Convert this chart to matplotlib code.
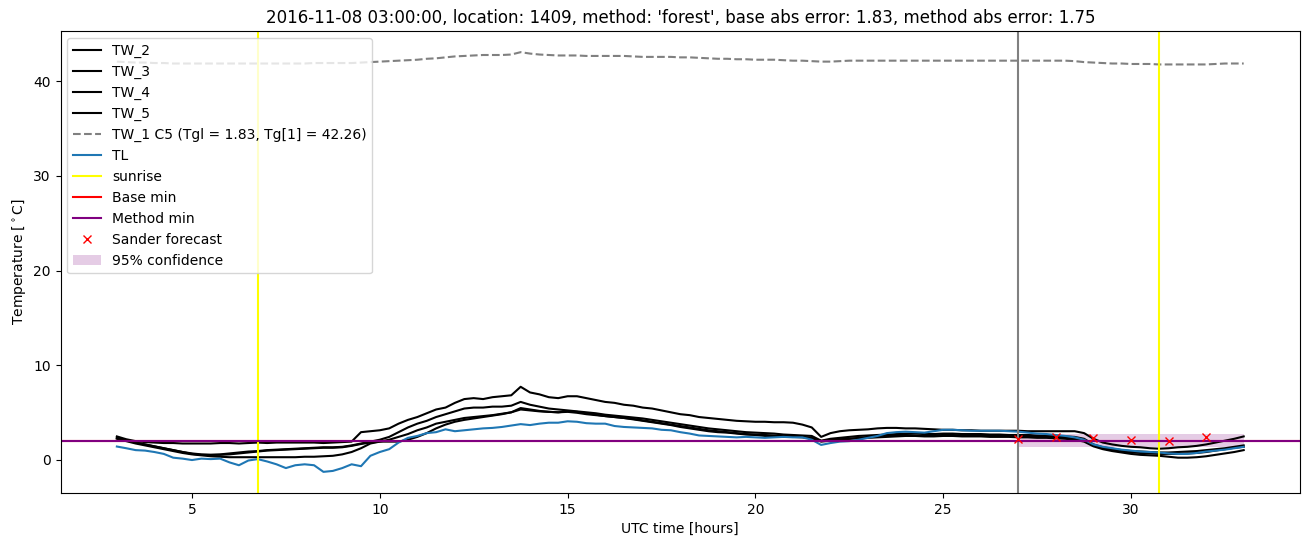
import numpy as np
import matplotlib
matplotlib.use("Agg")
import matplotlib.pyplot as plt

# time axis, 15-minute steps from 03:00 to 33:00 UTC
hours = np.arange(3, 33.001, 0.25)

tw_2 = [
    2.45, 2.15, 1.95, 1.85,
    1.8, 1.75, 1.75, 1.7,
    1.7, 1.7, 1.7, 1.75,
    1.75, 1.7, 1.75, 1.8,
    1.75, 1.8, 1.8, 1.8,
    1.8, 1.8, 1.75, 1.8,
    1.85, 1.9, 2.9, 3.0,
    3.1, 3.3, 3.8, 4.2,
    4.5, 4.9, 5.3, 5.5,
    6.0, 6.4, 6.5, 6.4,
    6.6, 6.7, 6.8, 7.7,
    7.1, 6.9, 6.6, 6.5,
    6.7, 6.7, 6.5, 6.3,
    6.1, 6.0, 5.8, 5.7,
    5.5, 5.4, 5.2, 5.0,
    4.8, 4.7, 4.5, 4.4,
    4.3, 4.2, 4.1, 4.05,
    4.0, 4.0, 3.95, 3.95,
    3.9, 3.7, 3.4, 2.4,
    2.8, 3.0, 3.1, 3.15,
    3.2, 3.3, 3.35, 3.35,
    3.3, 3.3, 3.25, 3.2,
    3.15, 3.15, 3.1, 3.1,
    3.05, 3.05, 3.05, 3.05,
    3.05, 3.0, 3.0, 3.0,
    3.0, 3.0, 3.0, 2.8,
    2.2, 1.8, 1.6, 1.45,
    1.35, 1.3, 1.2, 1.15,
    1.2, 1.3, 1.35, 1.45,
    1.6, 1.8, 2.0, 2.2,
    2.45,
]

tw_3 = [
    2.3, 2.0, 1.8, 1.6,
    1.4, 1.2, 1.0, 0.8,
    0.6, 0.5, 0.5, 0.55,
    0.65, 0.75, 0.85, 0.9,
    1.0, 1.05, 1.1, 1.15,
    1.2, 1.25, 1.3, 1.3,
    1.35, 1.5, 1.7, 1.9,
    2.1, 2.4, 2.9, 3.4,
    3.8, 4.1, 4.5, 4.8,
    5.1, 5.4, 5.5, 5.5,
    5.6, 5.6, 5.7, 6.1,
    5.8, 5.6, 5.4, 5.3,
    5.2, 5.1, 5.0, 4.9,
    4.75, 4.65, 4.55, 4.45,
    4.35, 4.2, 4.05, 3.9,
    3.75, 3.6, 3.45, 3.3,
    3.2, 3.1, 3.0, 2.9,
    2.85, 2.8, 2.75, 2.65,
    2.6, 2.55, 2.5, 2.0,
    2.2, 2.3, 2.4, 2.5,
    2.55, 2.6, 2.65, 2.7,
    2.75, 2.75, 2.7, 2.7,
    2.75, 2.75, 2.7, 2.7,
    2.7, 2.65, 2.65, 2.6,
    2.6, 2.6, 2.55, 2.5,
    2.5, 2.45, 2.4, 2.2,
    1.6, 1.3, 1.15, 1.0,
    0.9, 0.85, 0.8, 0.75,
    0.75, 0.8, 0.85, 0.9,
    1.0, 1.1, 1.2, 1.35,
    1.5,
]

tw_4 = [
    2.2, 1.95, 1.7, 1.5,
    1.3, 1.1, 0.9, 0.7,
    0.55, 0.45, 0.35, 0.3,
    0.25, 0.25, 0.25, 0.25,
    0.25, 0.25, 0.25, 0.25,
    0.3, 0.3, 0.35, 0.4,
    0.55, 0.8, 1.2, 1.7,
    1.9, 1.9, 1.9, 2.1,
    2.4, 2.8, 3.3, 3.7,
    4.0, 4.2, 4.35, 4.5,
    4.65, 4.8, 5.0, 5.3,
    5.2, 5.1, 5.05, 5.0,
    5.05, 4.95, 4.8, 4.7,
    4.6, 4.5, 4.4, 4.3,
    4.15, 4.0, 3.85, 3.7,
    3.55, 3.4, 3.25, 3.1,
    3.0, 2.9, 2.8, 2.7,
    2.65, 2.6, 2.55, 2.5,
    2.45, 2.4, 2.3, 1.95,
    2.05, 2.15, 2.2, 2.25,
    2.3, 2.35, 2.4, 2.45,
    2.5, 2.5, 2.45, 2.45,
    2.5, 2.5, 2.45, 2.45,
    2.45, 2.4, 2.4, 2.4,
    2.35, 2.35, 2.3, 2.3,
    2.25, 2.2, 2.1, 1.9,
    1.4, 1.1, 0.9, 0.75,
    0.6, 0.5, 0.45, 0.4,
    0.3, 0.2, 0.2, 0.25,
    0.35, 0.5, 0.65, 0.8,
    1.0,
]

tw_5 = [
    2.3, 2.05, 1.8, 1.6,
    1.4, 1.2, 1.0, 0.8,
    0.65, 0.55, 0.5, 0.5,
    0.55, 0.65, 0.75, 0.85,
    0.95, 1.0, 1.05, 1.1,
    1.15, 1.2, 1.25, 1.25,
    1.3, 1.45, 1.65, 1.8,
    1.9, 2.1, 2.4, 2.7,
    3.1, 3.4, 3.8, 4.0,
    4.2, 4.4, 4.5, 4.6,
    4.7, 4.85, 5.0, 5.45,
    5.3, 5.15, 5.05, 5.0,
    5.1, 5.05, 4.9, 4.75,
    4.6, 4.5, 4.4, 4.25,
    4.1, 3.95, 3.8, 3.65,
    3.45, 3.3, 3.15, 3.0,
    2.9, 2.85, 2.75, 2.65,
    2.6, 2.5, 2.45, 2.4,
    2.4, 2.35, 2.25, 1.9,
    2.0, 2.1, 2.2, 2.3,
    2.4, 2.5, 2.55, 2.6,
    2.6, 2.55, 2.5, 2.55,
    2.6, 2.6, 2.55, 2.55,
    2.55, 2.5, 2.5, 2.5,
    2.45, 2.45, 2.4, 2.4,
    2.35, 2.3, 2.2, 2.0,
    1.5, 1.2, 1.0, 0.85,
    0.75, 0.7, 0.65, 0.6,
    0.6, 0.6, 0.65, 0.7,
    0.8, 0.95, 1.1, 1.25,
    1.35,
]

tw_1 = [
    42.1, 42.05, 42.0, 42.0,
    41.95, 41.95, 41.9, 41.9,
    41.9, 41.9, 41.9, 41.9,
    41.9, 41.9, 41.9, 41.9,
    41.9, 41.9, 41.9, 41.9,
    41.9, 41.95, 41.95, 41.95,
    41.95, 41.95, 42.0, 42.05,
    42.1, 42.15, 42.2, 42.25,
    42.3, 42.4, 42.45, 42.55,
    42.65, 42.7, 42.75, 42.8,
    42.8, 42.8, 42.85, 43.1,
    42.95, 42.85, 42.8, 42.75,
    42.75, 42.75, 42.7, 42.7,
    42.7, 42.7, 42.7, 42.65,
    42.6, 42.6, 42.6, 42.6,
    42.55, 42.55, 42.5, 42.45,
    42.4, 42.4, 42.35, 42.35,
    42.3, 42.3, 42.3, 42.25,
    42.2, 42.2, 42.15, 42.1,
    42.1, 42.15, 42.2, 42.2,
    42.2, 42.2, 42.2, 42.2,
    42.2, 42.2, 42.2, 42.2,
    42.2, 42.2, 42.2, 42.2,
    42.2, 42.2, 42.2, 42.2,
    42.2, 42.2, 42.2, 42.2,
    42.2, 42.2, 42.15, 42.05,
    42.0, 41.95, 41.9, 41.9,
    41.85, 41.85, 41.85, 41.8,
    41.8, 41.8, 41.8, 41.8,
    41.8, 41.85, 41.9, 41.9,
    41.9,
]

tl = [
    1.38, 1.2, 1.0, 0.95,
    0.8, 0.6, 0.2, 0.1,
    -0.05, 0.1, 0.05, 0.1,
    -0.3, -0.6, -0.1, 0.05,
    -0.2, -0.5, -0.9, -0.6,
    -0.5, -0.6, -1.3, -1.2,
    -0.9, -0.5, -0.7, 0.4,
    0.8, 1.1, 1.8, 2.3,
    2.5, 2.8, 2.9, 3.2,
    3.0, 3.1, 3.2, 3.3,
    3.35, 3.45, 3.6, 3.75,
    3.65, 3.8, 3.9, 3.9,
    4.05, 4.0, 3.85, 3.8,
    3.8, 3.55, 3.45, 3.4,
    3.35, 3.3, 3.15, 3.1,
    2.9, 2.75, 2.55, 2.5,
    2.45, 2.4, 2.35, 2.4,
    2.35, 2.3, 2.35, 2.4,
    2.35, 2.35, 2.1, 1.55,
    1.75, 1.9, 1.95, 2.1,
    2.3, 2.5, 2.8, 2.9,
    2.95, 2.9, 2.85, 3.0,
    3.15, 3.15, 3.1, 3.05,
    3.05, 3.05, 3.05, 3.0,
    2.95, 2.85, 2.75, 2.7,
    2.6, 2.5, 2.35, 2.1,
    1.6, 1.35, 1.2, 1.05,
    0.95, 0.85, 0.8, 0.75,
    0.65, 0.6, 0.6, 0.7,
    0.85, 0.95, 1.05, 1.2,
    1.35,
]

sunrise_hours = [6.76, 30.74]
forecast_start = 27.0
base_min = 1.93
method_min = 1.93

forecast_hours = [27, 28, 29, 30, 31, 32]
forecast_vals = [2.19, 2.37, 2.27, 2.09, 1.95, 2.37]

conf_hours = [27, 33]
conf_low = [1.38, 1.38]
conf_high = [2.68, 2.68]

fig = plt.figure(figsize=(13.1, 5.47), dpi=100)
ax = fig.add_axes([0.0462, 0.099, 0.9462, 0.844])

ax.plot(hours, tw_2, color="black", label="TW_2")
ax.plot(hours, tw_3, color="black", label="TW_3")
ax.plot(hours, tw_4, color="black", label="TW_4")
ax.plot(hours, tw_5, color="black", label="TW_5")
ax.plot(hours, tw_1, color="gray", linestyle="--",
        label="TW_1 C5 (Tgl = 1.83, Tg[1] = 42.26)")
ax.plot(hours, tl, color="tab:blue", label="TL")
for i, h in enumerate(sunrise_hours):
    ax.axvline(h, color="yellow", label="sunrise" if i == 0 else None)
ax.axvline(forecast_start, color="gray")
ax.axhline(base_min, color="red", label="Base min")
ax.axhline(method_min, color="purple", label="Method min")
ax.plot(forecast_hours, forecast_vals, "x", color="red", label="Sander forecast")
ax.fill_between(conf_hours, conf_low, conf_high, color="purple", alpha=0.2,
                linewidth=0, label="95% confidence")

ax.set_xlabel("UTC time [hours]")
ax.set_ylabel("Temperature [$^\\circ$C]")
ax.set_title("2016-11-08 03:00:00, location: 1409, method: 'forest', "
             "base abs error: 1.83, method abs error: 1.75")
ax.legend(loc="upper left")

fig.savefig("out.png")
